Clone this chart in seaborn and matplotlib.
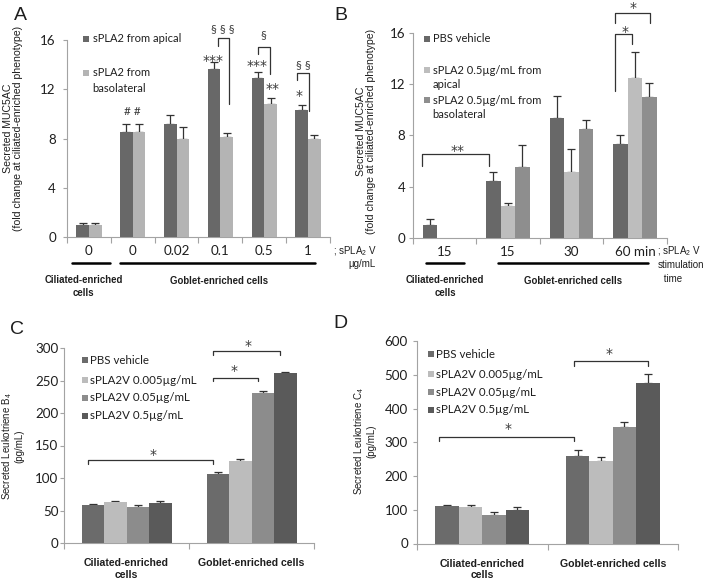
import numpy as np
import pandas as pd
import matplotlib.pyplot as plt
from matplotlib.patches import Rectangle
import seaborn as sns

# Panel A: MUC5AC by sPLA2 V dose
A_doses = ['ciliated 0', 'goblet 0', 'goblet 0.02', 'goblet 0.1', 'goblet 0.5', 'goblet 1']
A_ticklabels = ['0', '0', '0.02', '0.1', '0.5', '1']
A_series = ['sPLA2 from apical', 'sPLA2 from basolateral']
A_apical = [1.0, 8.5, 9.2, 13.65, 12.95, 10.3]
A_apical_err = [0.1, 0.7, 0.7, 0.6, 0.45, 0.4]
A_baso = [1.0, 8.5, 8.0, 8.15, 10.8, 7.95]
A_baso_err = [0.1, 0.7, 0.9, 0.3, 0.5, 0.3]

# Panel B: MUC5AC by stimulation time
B_times = ['ciliated 15', 'goblet 15', 'goblet 30', 'goblet 60']
B_ticklabels = ['15', '15', '30', '60 min']
B_series = ['PBS vehicle', 'sPLA2 0.5µg/mL from apical',
            'sPLA2 0.5µg/mL from basolateral']
B_pbs = [1.05, 4.4, 9.35, 7.3]
B_pbs_err = [0.4, 0.75, 1.7, 0.7]
B_apical = [np.nan, 2.5, 5.1, 12.45]
B_apical_err = [np.nan, 0.25, 1.85, 2.05]
B_baso = [np.nan, 5.55, 8.45, 10.95]
B_baso_err = [np.nan, 1.7, 0.7, 1.15]

# Panels C and D: leukotrienes
CD_cells = ['Ciliated-enriched\ncells', 'Goblet-enriched cells']
CD_series = ['PBS vehicle', 'sPLA2V 0.005µg/mL', 'sPLA2V 0.05µg/mL', 'sPLA2V 0.5µg/mL']
C_pbs, C_pbs_err = [58.5, 105.5], [1.5, 4.0]
C_005, C_005_err = [63.5, 126.0], [1.5, 3.5]
C_05, C_05_err = [56.0, 231.0], [2.0, 3.5]
C_5, C_5_err = [62.0, 261.0], [2.5, 2.0]
D_pbs, D_pbs_err = [111.0, 260.0], [4.0, 16.0]
D_005, D_005_err = [109.0, 245.0], [6.0, 11.0]
D_05, D_05_err = [85.0, 344.0], [7.0, 16.0]
D_5, D_5_err = [98.0, 477.0], [10.0, 25.0]

INK = '#333333'
AXIS = '#a3a3a3'
TEXT = '#1e1e1e'
ARIAL = ['Liberation Sans', 'DejaVu Sans']
W, H = 711, 585

sns.set_theme(style='white')
plt.rcParams['font.family'] = ['Lato', 'DejaVu Sans']
plt.rcParams['mathtext.default'] = 'regular'

fig = plt.figure(figsize=(W / 100, H / 100), dpi=100)


def box(left, top, right, bottom):
    return [left / W, 1 - bottom / H, (right - left) / W, (bottom - top) / H]


def draw_bars(ax, cats, names, values, errors, colors, width):
    rows = []
    for name, vals in zip(names, values):
        for cat, v in zip(cats, vals):
            rows.append({'cat': cat, 'series': name, 'value': v})
    df = pd.DataFrame(rows)
    sns.barplot(data=df, x='cat', y='value', hue='series', order=cats,
                hue_order=names, palette=colors, width=width, saturation=1,
                errorbar=None, legend=False, linewidth=0, zorder=3, ax=ax)
    # one-sided (upper) error bars, Excel style
    for cont, vals, errs in zip(ax.containers, values, errors):
        vals = np.asarray(vals, float)
        errs = np.asarray(errs, float)
        keep = ~np.isnan(vals)
        xs = [p.get_x() + p.get_width() / 2 for p in cont.patches]
        ax.errorbar(xs, vals[keep], yerr=[np.zeros(keep.sum()), errs[keep]],
                    fmt='none', ecolor=INK, elinewidth=0.9, capsize=3,
                    capthick=0.9, zorder=2)


def style_axes(ax, n, ymax, ystep, ypad, xpad):
    ax.set_xlim(-0.5, n - 0.5)
    ax.set_ylim(0, ymax)
    ax.set_yticks(np.arange(0, ymax + ystep / 2, ystep))
    ax.set_xticks(np.arange(-0.5, n), minor=True)
    for side in ['top', 'right']:
        ax.spines[side].set_visible(False)
    for side in ['left', 'bottom']:
        ax.spines[side].set_color(AXIS)
        ax.spines[side].set_linewidth(0.8)
    ax.tick_params(axis='y', left=True, length=3, width=0.8, color=AXIS,
                   pad=ypad, labelsize=9.6, labelcolor=TEXT)
    ax.tick_params(axis='x', which='major', bottom=True, length=0,
                   pad=xpad, labelsize=9.6, labelcolor=TEXT)
    ax.tick_params(axis='x', which='minor', bottom=True, length=4,
                   width=0.8, color=AXIS)
    ax.set_xlabel('')
    ax.set_ylabel('')


def bracket(ax, x1, x2, top, y1, y2):
    ax.plot([x1, x1, x2, x2], [y1, top, top, y2], color=INK, lw=0.9,
            clip_on=False, zorder=4)


def mark(ax, s, x, y):
    star = s.startswith('*')
    ax.annotate(s, (x, y), xytext=(0, -3.4 if star else 0),
                textcoords='offset points', ha='center', va='center',
                fontsize=10 if star else 8.5, color='#3a3a3a',
                family=['DejaVu Sans'] if star else ['Lato', 'DejaVu Sans'],
                annotation_clip=False)


def legend(x_box, x_text, rows, size):
    for label, color, y in rows:
        if color is not None:
            fig.add_artist(Rectangle((x_box / W, 1 - (y + 3) / H), 6 / W, 6 / H,
                                     transform=fig.transFigure, color=color,
                                     lw=0))
        fig.text(x_text / W, 1 - y / H, label, ha='left', va='center',
                 fontsize=size, color=TEXT)


def ftext(x, y, s, **kw):
    fig.text(x / W, 1 - y / H, s, family=ARIAL, color=TEXT, **kw)


def group_line(ax, x1, x2, y):
    ax.plot([x1, x2], [y, y], color='black', lw=1.8, clip_on=False,
            transform=ax.get_xaxis_transform())


# ---- A ----
axA = fig.add_axes(box(67, 40, 330, 237))
A_colors = ['#686868', '#b4b4b4']
draw_bars(axA, A_doses, A_series, [A_apical, A_baso],
          [A_apical_err, A_baso_err], A_colors, 0.58)
style_axes(axA, len(A_doses), 16, 4, 5, 5.5)
axA.set_xticks(range(len(A_doses)), A_ticklabels)
for spec in [(2.94, 3.20, 16.2, 15.5, 10.8), (3.86, 4.13, 15.4, 14.85, 13.2),
             (4.75, 5.01, 13.3, 12.75, 10.2)]:
    bracket(axA, *spec)
for s, x, y in [('§ § §', 3.06, 16.9), ('***', 2.83, 14.66), ('§', 3.99, 16.4),
                ('***', 3.83, 14.3), ('**', 4.20, 12.4), ('§ §', 4.89, 14.0),
                ('*', 4.80, 11.8), ('# #', 1.0, 10.2)]:
    mark(axA, s, x, y)
group_line(axA, -0.386, 0.48, -0.13)
group_line(axA, 0.71, 5.16, -0.13)
legend(83, 92.5, [('sPLA2 from apical', A_colors[0], 39),
                  ('sPLA2 from', A_colors[1], 72.5),
                  ('basolateral', None, 88)], 8)

# ---- B ----
axB = fig.add_axes(box(412.7, 32.5, 666.7, 238))
B_colors = ['#686868', '#bdbdbd', '#8e8e8e']
draw_bars(axB, B_times, B_series, [B_pbs, B_apical, B_baso],
          [B_pbs_err, B_apical_err, B_baso_err], B_colors, 0.685)
style_axes(axB, len(B_times), 16, 4, 2.2, 5.5)
axB.set_xticks(range(len(B_times)), B_ticklabels)
for spec in [(-0.35, 0.70, 6.53, 5.62, 5.62), (2.69, 2.96, 15.9, 11.45, 15.1),
             (2.69, 3.23, 17.5, 16.75, 16.75)]:
    bracket(axB, *spec)
for s, x, y in [('**', 0.21, 7.15), ('*', 2.84, 16.4), ('*', 2.97, 18.25)]:
    mark(axB, s, x, y)
group_line(axB, -0.29, 0.31, -0.12)
group_line(axB, 0.84, 3.21, -0.12)
legend(424, 432.5, [('PBS vehicle', B_colors[0], 38.5),
                    ('sPLA2 0.5µg/mL from', B_colors[1], 70),
                    ('apical', None, 85),
                    ('sPLA2 0.5µg/mL from', B_colors[2], 100),
                    ('basolateral', None, 115)], 8)

# ---- C ----
CD_colors = ['#6b6b6b', '#bcbcbc', '#8c8c8c', '#5a5a5a']
axC = fig.add_axes(box(64, 348, 314, 543))
draw_bars(axC, CD_cells, CD_series, [C_pbs, C_005, C_05, C_5],
          [C_pbs_err, C_005_err, C_05_err, C_5_err], CD_colors, 0.72)
style_axes(axC, 2, 300, 50, 1, 11)
axC.set_xticks([0, 1], CD_cells)
for spec in [(-0.31, 0.69, 128, 121.5, 121.5), (0.69, 1.05, 254, 249, 249),
             (0.69, 1.23, 295, 289, 289)]:
    bracket(axC, *spec)
for s, x, y in [('*', 0.21, 143), ('*', 0.86, 272), ('*', 0.97, 311)]:
    mark(axC, s, x, y)
legend(82, 89.5, [(lab, col, y) for lab, col, y in
                  zip(CD_series, CD_colors, [360, 380, 397.5, 415.5])], 8.3)

# ---- D ----
axD = fig.add_axes(box(417, 341, 678, 543.5))
draw_bars(axD, CD_cells, CD_series, [D_pbs, D_005, D_05, D_5],
          [D_pbs_err, D_005_err, D_05_err, D_5_err], CD_colors, 0.72)
style_axes(axD, 2, 600, 100, 3.5, 11)
axD.set_xticks([0, 1], CD_cells)
for spec in [(-0.33, 0.70, 316, 304, 304), (0.70, 1.27, 540, 525, 525)]:
    bracket(axD, *spec)
for s, x, y in [('*', 0.20, 352), ('*', 0.97, 575)]:
    mark(axD, s, x, y)
legend(428, 435.5, [(lab, col, y) for lab, col, y in
                    zip(CD_series, CD_colors, [354, 374, 392, 409.5])], 8.3)

for ax in [axC, axD]:
    for lab in ax.get_xticklabels():
        lab.set_family(ARIAL)
        lab.set_fontweight('bold')
        lab.set_fontsize(7.6)
        lab.set_verticalalignment('top')

# ---- texts ----
for s, x, y in [('A', 20, 15), ('B', 341, 15), ('C', 17, 330), ('D', 340, 323)]:
    ftext(x, y, s, fontsize=14, ha='center', va='center')

ylab_ab = 'Secreted MUC5AC\n(fold change at ciliated-enriched phenotype)'
ftext(13, 128, ylab_ab, fontsize=7.6, rotation=90, ha='center', va='center',
      multialignment='center', linespacing=1.0)
ftext(366, 131, ylab_ab, fontsize=7.6, rotation=90, ha='center', va='center',
      multialignment='center', linespacing=1.0)
ftext(12.5, 446, 'Secreted Leukotriene B$_4$\n(pg/mL)', fontsize=7, rotation=90,
      ha='center', va='center', multialignment='center', linespacing=1.0)
ftext(364, 441, 'Secreted Leukotriene C$_4$\n(pg/mL)', fontsize=7, rotation=90,
      ha='center', va='center', multialignment='center', linespacing=1.0)

for x, y in [(83.5, 275), (445, 275)]:
    ftext(x, y, 'Ciliated-enriched\ncells', fontsize=6.9, fontweight='bold',
          ha='center', va='top', multialignment='center', linespacing=1.35)
for x, y in [(219, 276), (573, 276)]:
    ftext(x, y, 'Goblet-enriched cells', fontsize=6.9, fontweight='bold',
          ha='center', va='top')

ftext(333, 251, '; sPLA$_2$ V', fontsize=7, ha='left', va='center')
ftext(348, 264, 'µg/mL', fontsize=7, ha='left', va='center')
ftext(657, 251, '; sPLA$_2$ V', fontsize=7, ha='left', va='center')
ftext(658, 265, 'stimulation', fontsize=7, ha='left', va='center')
ftext(661, 279, ' time', fontsize=7, ha='left', va='center')

fig.savefig('out.png', dpi=100)
